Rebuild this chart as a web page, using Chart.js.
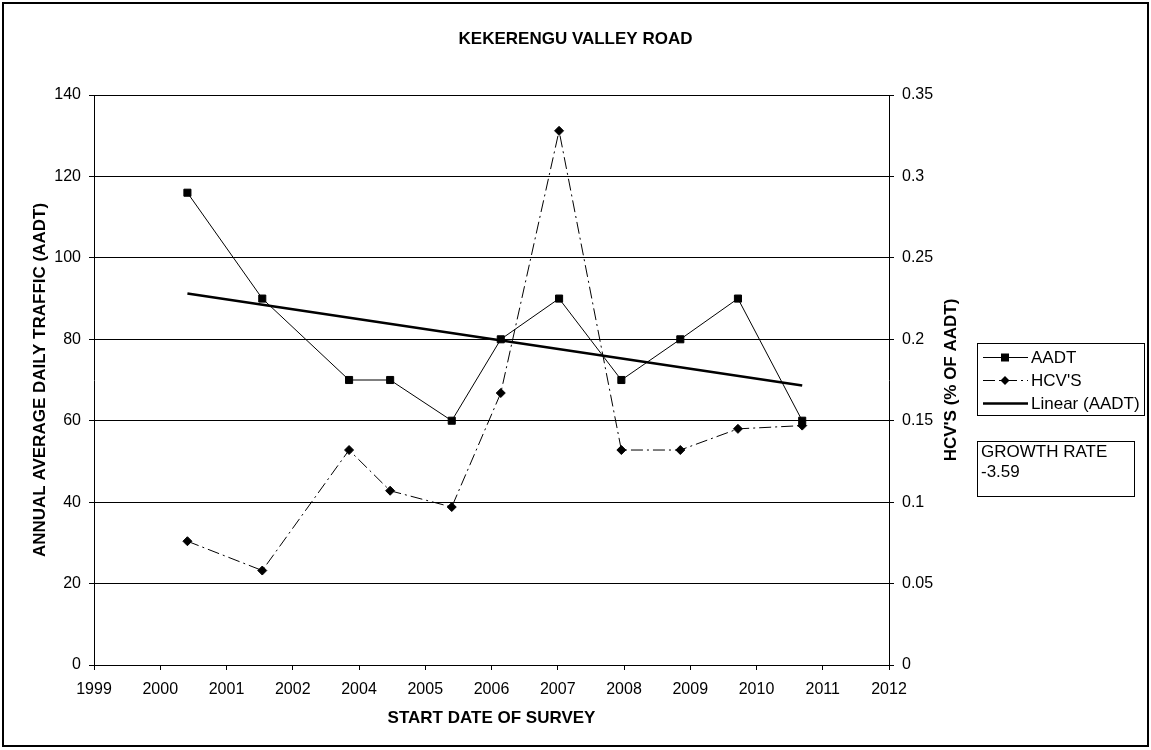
<!DOCTYPE html>
<html>
<head>
<meta charset="utf-8">
<title>Kekerengu Valley Road</title>
<script src="https://cdn.jsdelivr.net/npm/chart.js"></script>
<style>
  html, body { margin: 0; padding: 0; background: #fff; }
  #wrap { width: 1151px; height: 750px; }
</style>
</head>
<body>
<div id="wrap"><canvas id="chart" width="1151" height="750"></canvas></div>
<script>
// tick labels of the date axis, as printed (2003 is not shown)
var xLabels = ['1999', '2000', '2001', '2002', '2004', '2005', '2006', '2007', '2008', '2009', '2010', '2011', '2012'];
// survey start dates, as positions on that axis (in tick steps from the 1999 tick)
var surveyPos = [1.41, 2.54, 3.85, 4.47, 5.40, 6.14, 7.02, 7.96, 8.85, 9.72, 10.69];
// annual average daily traffic
var aadt = [116, 90, 70, 70, 60, 80, 90, 70, 80, 90, 60];
// heavy vehicles, share of AADT
var hcv = [0.076, 0.058, 0.132, 0.107, 0.097, 0.167, 0.328, 0.132, 0.132, 0.145, 0.147];
var leftTicks = [0, 140, 20];
var rightTicks = [0, 0.35, 0.05];
var growthRate = ['GROWTH RATE', '-3.59'];

var FONT = "'Liberation Sans', Arial, sans-serif";

function points(xs, ys) {
  var out = [];
  for (var i = 0; i < xs.length; i++) out.push({ x: xs[i], y: ys[i] });
  return out;
}

// least squares line, like Excel's "Linear" trendline
function linearTrend(xs, ys) {
  var n = xs.length, mx = 0, my = 0, sxy = 0, sxx = 0;
  for (var i = 0; i < n; i++) { mx += xs[i] / n; my += ys[i] / n; }
  for (var j = 0; j < n; j++) {
    sxy += (xs[j] - mx) * (ys[j] - my);
    sxx += (xs[j] - mx) * (xs[j] - mx);
  }
  var b = sxy / sxx, a = my - b * mx;
  var x0 = xs[0], x1 = xs[n - 1];
  return [{ x: x0, y: a + b * x0 }, { x: x1, y: a + b * x1 }];
}

// legend box, growth rate box, right axis title and outer frame
var extrasPlugin = {
  id: 'extras',
  afterDraw: function(chart) {
    var ctx = chart.ctx;
    ctx.save();
    ctx.strokeStyle = '#000';
    ctx.fillStyle = '#000';

    // outer frame
    ctx.lineWidth = 2;
    ctx.strokeRect(3, 3, 1145, 743);

    // right axis title (reads bottom to top, like the left one)
    ctx.save();
    ctx.translate(951, (chart.chartArea.top + chart.chartArea.bottom) / 2);
    ctx.rotate(-Math.PI / 2);
    ctx.font = 'bold 17px ' + FONT;
    ctx.textAlign = 'center';
    ctx.textBaseline = 'middle';
    ctx.fillText("HCV'S (% OF AADT)", 0, 0);
    ctx.restore();

    // legend
    ctx.lineWidth = 1;
    ctx.strokeRect(977.5, 343.5, 167, 72);
    ctx.font = '17px ' + FONT;
    ctx.textAlign = 'left';
    ctx.textBaseline = 'middle';
    var rows = [357, 380, 403];
    chart.data.datasets.forEach(function(ds, i) {
      var y = rows[i];
      ctx.save();
      ctx.lineWidth = ds.borderWidth;
      ctx.setLineDash(ds.borderDash || []);
      ctx.beginPath();
      ctx.moveTo(983, y + 0.5);
      ctx.lineTo(1028, y + 0.5);
      ctx.stroke();
      ctx.setLineDash([]);
      if (ds.pointStyle === 'rect') {
        ctx.fillRect(1001, y - 3.5, 8, 8);
      } else if (ds.pointStyle === 'rectRot') {
        ctx.beginPath();
        ctx.moveTo(1005, y - 4);
        ctx.lineTo(1009.5, y + 0.5);
        ctx.lineTo(1005, y + 5);
        ctx.lineTo(1000.5, y + 0.5);
        ctx.closePath();
        ctx.fill();
      }
      ctx.restore();
      ctx.fillText(ds.label, 1031, y + 1);
    });

    // growth rate note
    ctx.strokeRect(977.5, 441.5, 157, 55);
    ctx.fillText(growthRate[0], 981, 452);
    ctx.fillText(growthRate[1], 981, 472);
    ctx.restore();
  }
};

var ctx = document.getElementById('chart').getContext('2d');
var chart = new Chart(ctx, {
  type: 'line',
  data: {
    datasets: [
      {
        label: 'AADT',
        data: points(surveyPos, aadt),
        yAxisID: 'y',
        borderColor: '#000',
        backgroundColor: '#000',
        borderWidth: 1,
        pointStyle: 'rect',
        pointRadius: 5,
        pointBorderWidth: 1,
        tension: 0
      },
      {
        label: "HCV'S",
        data: points(surveyPos, hcv),
        yAxisID: 'y1',
        borderColor: '#000',
        backgroundColor: '#000',
        borderWidth: 1,
        borderDash: [12, 4, 2, 4],
        pointStyle: 'rectRot',
        pointRadius: 4.5,
        pointBorderWidth: 1,
        tension: 0
      },
      {
        label: 'Linear (AADT)',
        data: linearTrend(surveyPos, aadt),
        yAxisID: 'y',
        borderColor: '#000',
        borderWidth: 2.5,
        pointRadius: 0,
        tension: 0
      }
    ]
  },
  options: {
    responsive: false,
    animation: false,
    devicePixelRatio: 1,
    layout: { padding: 0 },
    plugins: {
      legend: { display: false },
      tooltip: { enabled: false },
      title: {
        display: true,
        text: 'KEKERENGU VALLEY ROAD',
        color: '#000',
        font: { family: FONT, size: 17, weight: 'bold' },
        padding: { top: 28.8, bottom: 45.8 }
      }
    },
    scales: {
      x: {
        type: 'linear',
        min: 0,
        max: xLabels.length - 1,
        afterFit: function(scale) { scale.height = 85; },
        ticks: {
          stepSize: 1,
          autoSkip: false,
          maxRotation: 0,
          padding: 10,
          color: '#000',
          font: { family: FONT, size: 16 },
          callback: function(v) { return xLabels[v]; }
        },
        grid: { drawOnChartArea: false, drawTicks: true, tickLength: 5, color: '#000' },
        border: { display: true, color: '#000', width: 1 },
        title: {
          display: true,
          text: 'START DATE OF SURVEY',
          color: '#000',
          font: { family: FONT, size: 17, weight: 'bold' },
          padding: { top: 0, bottom: 21.5 }
        }
      },
      y: {
        position: 'left',
        min: leftTicks[0],
        max: leftTicks[1],
        afterFit: function(scale) { scale.width = 94; },
        ticks: {
          stepSize: leftTicks[2],
          padding: 8,
          color: '#000',
          font: { family: FONT, size: 16 }
        },
        grid: { color: '#000', lineWidth: 1, drawTicks: true, tickLength: 5 },
        border: { display: true, color: '#000', width: 1 },
        title: {
          display: true,
          text: 'ANNUAL AVERAGE DAILY TRAFFIC (AADT)',
          color: '#000',
          font: { family: FONT, size: 17, weight: 'bold' },
          padding: { top: 29.8, bottom: 0 }
        }
      },
      y1: {
        position: 'right',
        min: rightTicks[0],
        max: rightTicks[1],
        afterFit: function(scale) { scale.width = 1151 - 889; },
        ticks: {
          stepSize: rightTicks[2],
          padding: 8,
          color: '#000',
          font: { family: FONT, size: 16 },
          callback: function(v) { return String(Number(v.toFixed(2))); }
        },
        grid: { drawOnChartArea: false, drawTicks: true, tickLength: 5, color: '#000' },
        border: { display: true, color: '#000', width: 1 }
      }
    }
  },
  plugins: [extrasPlugin]
});
</script>
</body>
</html>
